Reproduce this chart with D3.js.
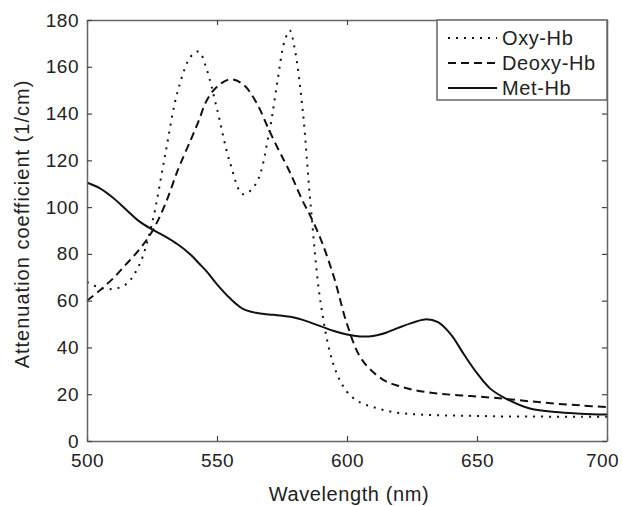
<!DOCTYPE html>
<html>
<head>
<meta charset="utf-8">
<script src="https://d3js.org/d3.v7.min.js"></script>
<style>
body { margin:0; background:#fff; }
text { font-family: "Liberation Sans", Arial, sans-serif; fill:#222; }
</style>
</head>
<body>
<div id="chart"></div>
<script>
// 파장 (nm)
var wavelength = [500,505,510,515,520,525,530,535,540,543,546,550,555,560,565,570,573,576,578,580,583,586,590,595,600,605,610,615,620,625,630,635,640,645,650,655,660,670,680,690,700];
var oxyHb   = [68,65.5,65,67,75,93,122,150,164.5,166.5,159,142,119,105.5,110,131.5,152,171,175.5,167,141,101,58,32,21,16.5,14.5,13,12,11.5,11.2,11,10.9,10.8,10.7,10.6,10.5,10.5,10.4,10.4,10.4];
var deoxyHb = [60,64.5,69.5,75.5,81.7,89.5,101,116,129,137,145.5,151.5,154.6,152.5,145,133,126,119.5,115,110,102.5,96,86,70,50,36,29.5,25.5,23.5,22,21,20.3,19.8,19.4,19,18.6,18.1,17,16,15.2,14.5];
var metHb   = [110.5,108,104,99,94,90.5,87.5,84,79.5,76,72.5,67,61,56.5,54.8,54.1,53.8,53.4,53.1,52.7,51.8,50.6,49,47,45.5,44.7,44.9,46.3,48.5,50.5,52,50.8,45.5,37,29,22.5,18.8,14,12.4,11.7,11.3];

var xTicks = [500,550,600,650,700];
var yTicks = [0,20,40,60,80,100,120,140,160,180];
var seriesNames = ["Oxy-Hb","Deoxy-Hb","Met-Hb"];
var dashArr = ["2,6","8,5",null];

var W = 622, H = 506;
var margin = {top:20, right:15, bottom:65, left:87};
var width = W - margin.left - margin.right,
    height = H - margin.top - margin.bottom;

var svg = d3.select("#chart").append("svg")
    .attr("width", W).attr("height", H);
var chart = svg.append("g")
    .attr("transform", "translate(" + margin.left + "," + margin.top + ")");

var x = d3.scaleLinear().domain([500,700]).range([0, width]);
var y = d3.scaleLinear().domain([0,180]).range([height, 0]);

var series = [oxyHb, deoxyHb, metHb];

var line = d3.line()
    .x(function(d){ return x(d[0]); })
    .y(function(d){ return y(d[1]); })
    .curve(d3.curveCatmullRom.alpha(0.5));

// 데이터 라인
chart.selectAll(".dataLine").data(series)
    .enter().append("path")
    .attr("class","dataLine")
    .attr("fill","none")
    .attr("stroke","#111")
    .attr("stroke-width", 2)
    .attr("stroke-dasharray", function(d,i){ return dashArr[i]; })
    .attr("d", function(d){
        return line(d.map(function(v,i){ return [wavelength[i], v]; }));
    });

// 축 (안쪽 눈금, 네 방향)
var tk = 5;
var xAxisG = chart.append("g").attr("transform","translate(0,"+height+")")
    .call(d3.axisBottom(x).tickValues(xTicks).tickSizeInner(-tk).tickSizeOuter(0).tickPadding(13));
chart.append("g")
    .call(d3.axisTop(x).tickValues(xTicks).tickSizeInner(-tk).tickSizeOuter(0).tickFormat(""));
chart.append("g")
    .call(d3.axisLeft(y).tickValues(yTicks).tickSizeInner(-tk).tickSizeOuter(0).tickPadding(8));
chart.append("g").attr("transform","translate("+width+",0)")
    .call(d3.axisRight(y).tickValues(yTicks).tickSizeInner(-tk).tickSizeOuter(0).tickFormat(""));

chart.selectAll(".domain").attr("stroke","#666").attr("stroke-width",1.5);
chart.selectAll(".tick line").attr("stroke","#444").attr("stroke-width",1.2);
chart.selectAll(".tick text").style("font-size","19px").style("letter-spacing","0.5px").attr("fill","#333")
    .style("font-family","'Liberation Sans', Arial, sans-serif");
// 마지막 라벨이 잘리지 않도록
xAxisG.selectAll(".tick text").filter(function(d){ return d == 700; }).attr("dx", -5);

// 축 라벨
svg.append("text")
    .attr("x", margin.left + width/2 + 2).attr("y", 501)
    .attr("text-anchor","middle")
    .style("font-size","20px").style("letter-spacing","0.6px")
    .text("Wavelength (nm)");
svg.append("text")
    .attr("transform","translate(29,224) rotate(-90)")
    .attr("text-anchor","middle")
    .style("font-size","20px").style("letter-spacing","1px")
    .text("Attenuation coefficient (1/cm)");

// 범례
var lgX = 437, lgW = margin.left + width - lgX, lgH = 80;
var legend = svg.append("g").attr("transform","translate("+lgX+","+margin.top+")");
legend.append("rect")
    .attr("width", lgW).attr("height", lgH)
    .attr("fill","#fff").attr("stroke","#666").attr("stroke-width",1.5);
var rows = legend.selectAll(".lg").data(seriesNames).enter().append("g")
    .attr("transform", function(d,i){ return "translate(0,"+(18 + i*25)+")"; });
rows.append("line")
    .attr("x1",11).attr("x2",60).attr("y1",0).attr("y2",0)
    .attr("stroke","#111").attr("stroke-width",2)
    .attr("stroke-dasharray", function(d,i){ return dashArr[i]; });
rows.append("text")
    .attr("x",65).attr("y",7)
    .style("font-size","20px").style("letter-spacing","0.6px")
    .text(function(d){ return d; });
</script>
</body>
</html>
